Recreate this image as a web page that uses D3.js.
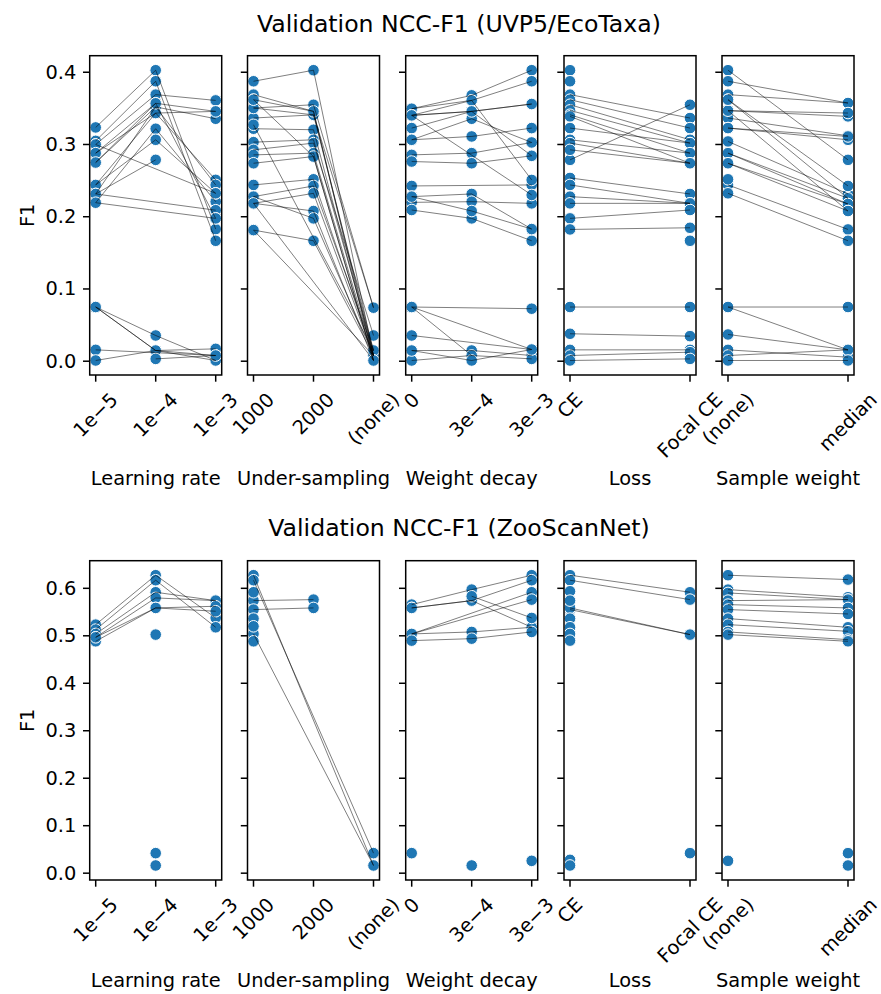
<!DOCTYPE html>
<html>
<head>
<meta charset="utf-8">
<script src="https://cdn.jsdelivr.net/npm/d3@7"></script>
<style>
  body { margin: 0; background: #fff; }
  text { font-family: "DejaVu Sans", "Liberation Sans", sans-serif; fill: #000; }
</style>
</head>
<body>
<svg id="chart" width="881" height="994"></svg>
<script>
// ---------------- data ----------------
const panelNames = ["Learning rate", "Under-sampling", "Weight decay", "Loss", "Sample weight"];
const lrCats = ["1e\u22125", "1e\u22124", "1e\u22123"];
const usCats = ["1000", "2000", "(none)"];
const wdCats = ["0", "3e\u22124", "3e\u22123"];
const lossCats = ["CE", "Focal CE"];
const swCats = ["(none)", "median"];
const rowTitles = ["Validation NCC-F1 (UVP5/EcoTaxa)", "Validation NCC-F1 (ZooScanNet)"];
const yTicksUvp = [0, 0.1, 0.2, 0.3, 0.4];
const yTicksZoo = [0, 0.1, 0.2, 0.3, 0.4, 0.5, 0.6];

// Each run lists its F1 at every level of the varied hyperparameter (null = not run).
const uvpLearningRate = [
  [0.3236, 0.4028, 0.1829], [0.305, 0.3875, 0.1667], [0.300, 0.369, 0.361],
  [0.288, 0.357, 0.3458], [0.275, 0.352, 0.3356], [0.244, 0.3435, 0.251],
  [0.2315, 0.352, 0.244], [0.2194, 0.3218, 0.2208], [0.244, 0.3065, 0.2324],
  [0.2315, 0.2787, null], [0.2315, null, 0.209], [0.2194, null, 0.1977],
  [0.300, null, 0.2324], [0.288, 0.3435, 0.3458], [0.275, 0.357, 0.1977],
  [0.075, 0.0148, 0.0079], [0.075, 0.0356, 0.001], [0.075, 0.0148, 0.0171],
  [0.0157, null, 0.0079], [0.001, 0.0148, 0.001], [null, 0.0032, 0.0079]
];
const uvpUnderSampling = [
  [0.3875, 0.4028, 0.0079], [0.369, 0.3458, 0.0079], [0.362, 0.2833, 0.001],
  [0.3505, 0.341, 0.0148], [0.3366, 0.341, 0.0741], [0.3218, 0.3204, 0.0079],
  [0.3032, 0.3065, 0.0148], [0.2926, 0.3019, 0.0356], [0.2856, 0.288, 0.0079],
  [0.274, 0.2833, 0.001], [0.244, 0.2518, 0.0079], [0.2278, 0.2426, 0.0148],
  [0.2185, 0.2324, 0.0079], [0.2185, 0.2079, 0.001], [0.2278, 0.1977, 0.0079],
  [0.1815, 0.1667, 0.0079], [0.1815, null, 0.0079], [0.3273, null, 0.0148],
  [0.2185, null, 0.001], [0.3505, 0.355, 0.0741], [0.362, 0.3458, 0.001]
];
const uvpWeightDecay = [
  [0.3495, 0.368, 0.4028], [0.3403, 0.361, 0.3875], [0.3403, 0.3458, 0.356],
  [0.3227, 0.3458, 0.356], [0.3065, 0.3111, 0.3227], [0.3065, 0.3356, 0.3028],
  [0.2856, 0.288, 0.3028], [0.2764, 0.274, 0.2843], [0.2426, null, 0.244],
  [0.2278, 0.2315, 0.1829], [0.2199, 0.2208, 0.2185], [0.2093, 0.1977, 0.1667],
  [0.3495, 0.361, 0.2509], [0.3403, 0.3458, 0.2843], [0.3403, null, 0.2301],
  [0.2278, 0.2079, 0.1829], [0.075, null, 0.0727], [0.075, 0.0079, null],
  [0.075, null, 0.0162], [0.0356, null, 0.0162], [0.0148, 0.0148, 0.0079],
  [0.001, 0.0079, 0.0032], [0.0148, 0.001, 0.0162]
];
const uvpLoss = [
  [0.4028, null], [0.3875, null], [0.369, 0.3366], [0.362, 0.3227], [0.355, 0.3065],
  [0.3472, 0.3019], [0.3412, 0.288], [0.3389, 0.274], [0.3227, 0.3019], [0.3065, 0.288],
  [0.3019, 0.274], [0.2787, 0.355], [0.2926, 0.274], [0.2537, 0.2315], [0.244, 0.2185],
  [0.2278, 0.2185], [0.2185, 0.2185], [0.1977, 0.2093], [0.1824, 0.1847], [null, 0.1667],
  [0.075, 0.075], [0.038, 0.0347], [0.0157, 0.0157], [0.0079, 0.0125], [0.001, 0.0032]
];
const uvpSampleWeight = [
  [0.4028, 0.2787], [0.3875, 0.3574], [0.369, 0.3574], [0.362, 0.2255], [0.3468, 0.3389],
  [0.3468, 0.3435], [0.3366, 0.312], [0.3227, 0.3065], [0.3227, 0.3111], [0.3042, 0.2315],
  [0.288, 0.2255], [0.288, 0.2176], [0.274, 0.2176], [0.274, 0.2079], [0.244, 0.1824],
  [0.2324, 0.1667], [0.3468, 0.2079], [0.362, 0.2426], [0.2518, null], [0.075, 0.075],
  [0.075, 0.0157], [0.037, 0.0157], [0.0157, 0.0056], [0.0079, 0.0157], [0.001, 0.001]
];

const zooLearningRate = [
  [0.5235, 0.6276, 0.5376], [0.513, 0.617, 0.5179], [0.5039, 0.5917, 0.5741],
  [0.4968, 0.5798, 0.5741], [0.4884, 0.5587, 0.5622], [0.4968, 0.5587, 0.5517],
  [null, 0.5025, null], [null, 0.0422, null], [null, 0.0162, null]
];
const zooUnderSampling = [
  [0.6276, null, 0.0162], [0.617, null, 0.0422], [0.5741, 0.5762, null],
  [0.5552, 0.5587, null], [0.5039, null, 0.0162], [0.5917, null, null],
  [0.5362, null, null], [0.52, null, null], [0.4884, null, null]
];
const zooWeightDecay = [
  [0.5657, 0.5973, 0.6276], [0.5587, 0.5741, 0.617], [0.5587, 0.5741, 0.5179],
  [0.5039, null, 0.5917], [0.5039, null, 0.5762], [0.5039, 0.5081, 0.5179],
  [0.4898, 0.494, 0.5081], [null, 0.5833, 0.5376], [0.0422, null, null],
  [null, 0.0162, null], [null, null, 0.026]
];
const zooLoss = [
  [0.6276, 0.5917], [0.617, 0.5762], [0.5552, 0.5025], [0.5587, 0.5025],
  [0.5938, null], [0.5741, null], [0.5362, null], [0.518, null], [0.5039, null],
  [0.4898, null], [0.0281, null], [0.0162, null], [null, 0.0422]
];
const zooSampleWeight = [
  [0.6276, 0.6184], [0.5973, 0.5812], [0.5903, 0.5762], [0.5741, 0.5762],
  [0.5657, 0.5587], [0.5552, 0.546], [0.5362, 0.5179], [0.5235, 0.5095],
  [0.5081, 0.4919], [0.5025, 0.4884], [0.026, null], [null, 0.0422], [null, 0.0162]
];

// ---------------- layout ----------------
const svg = d3.select("#chart");
const fs = 19.4;        // 10 pt
const titleFs = 23.6;   // 12 pt
const tickLen = 6.7, tickPad = 6.7;
const panelLeft = [89.7, 247.5, 405.7, 564, 722];
const panelW = 132;
const blue = "#1f77b4";

const rows = [
  { title: rowTitles[0], top: 55.7, bottom: 375, titleY: 24, labelY: 478, yTicks: yTicksUvp,
    panels: [uvpLearningRate, uvpUnderSampling, uvpWeightDecay, uvpLoss, uvpSampleWeight] },
  { title: rowTitles[1], top: 560.7, bottom: 880, titleY: 528, labelY: 980, yTicks: yTicksZoo,
    panels: [zooLearningRate, zooUnderSampling, zooWeightDecay, zooLoss, zooSampleWeight] }
];
const catsList = [lrCats, usCats, wdCats, lossCats, swCats];

rows.forEach(row => {
  // shared y range over the row, with a 5% margin
  const all = row.panels.flat(2).filter(v => v != null);
  const lo = d3.min(all), hi = d3.max(all), m = (hi - lo) * 0.05;
  const y = d3.scaleLinear().domain([lo - m, hi + m]).range([row.bottom, row.top]);

  svg.append("text")
    .attr("x", 459).attr("y", row.titleY)
    .attr("text-anchor", "middle").attr("dominant-baseline", "central")
    .style("font-size", titleFs + "px").text(row.title);

  svg.append("text")
    .attr("transform", `translate(27,${(row.top + row.bottom) / 2}) rotate(-90)`)
    .attr("text-anchor", "middle").attr("dominant-baseline", "central")
    .style("font-size", fs + "px").text("F1");

  row.panels.forEach((runs, pi) => {
    const cats = catsList[pi];
    const x = d3.scalePoint().domain(d3.range(cats.length))
      .range([panelLeft[pi], panelLeft[pi] + panelW]).padding(0.05 * (cats.length - 1));
    const g = svg.append("g");

    // points
    runs.forEach(run => run.forEach((v, i) => {
      if (v == null) return;
      g.append("circle").attr("cx", x(i)).attr("cy", y(v)).attr("r", 5.8)
        .attr("fill", blue).attr("stroke", "#fff").attr("stroke-width", 1);
    }));

    // connecting lines for each run
    const line = d3.line().x(d => x(d[0])).y(d => y(d[1]));
    runs.forEach(run => {
      const pts = run.map((v, i) => [i, v]).filter(d => d[1] != null);
      if (pts.length < 2) return;
      g.append("path").attr("d", line(pts)).attr("fill", "none")
        .attr("stroke", "#000").attr("stroke-opacity", 0.5).attr("stroke-width", 1);
    });

    // frame
    g.append("rect").attr("x", panelLeft[pi]).attr("y", row.top)
      .attr("width", panelW).attr("height", row.bottom - row.top)
      .attr("fill", "none").attr("stroke", "#000").attr("stroke-width", 1.5);

    // y ticks
    row.yTicks.forEach(t => {
      g.append("line").attr("x1", panelLeft[pi]).attr("x2", panelLeft[pi] - tickLen)
        .attr("y1", y(t)).attr("y2", y(t)).attr("stroke", "#000").attr("stroke-width", 1.5);
      if (pi === 0) {
        g.append("text").attr("x", panelLeft[pi] - tickLen - tickPad).attr("y", y(t))
          .attr("text-anchor", "end").attr("dominant-baseline", "central")
          .style("font-size", fs + "px").text(d3.format(".1f")(t));
      }
    });

    // x ticks and rotated labels
    cats.forEach((c, i) => {
      g.append("line").attr("x1", x(i)).attr("x2", x(i))
        .attr("y1", row.bottom).attr("y2", row.bottom + tickLen)
        .attr("stroke", "#000").attr("stroke-width", 1.5);
      const t = g.append("text").attr("text-anchor", "middle").attr("dominant-baseline", "central")
        .style("font-size", fs + "px").text(c);
      const w = t.node().getComputedTextLength();
      const h = fs * 1.16;
      const s = (w + h) / Math.SQRT2;
      const top = row.bottom + tickLen + tickPad;
      t.attr("transform", `translate(${x(i)},${top + s / 2}) rotate(-45)`);
    });

    // axis title
    g.append("text").attr("x", panelLeft[pi] + panelW / 2).attr("y", row.labelY)
      .attr("text-anchor", "middle").attr("dominant-baseline", "central")
      .style("font-size", fs + "px").text(panelNames[pi]);
  });
});
</script>
</body>
</html>
